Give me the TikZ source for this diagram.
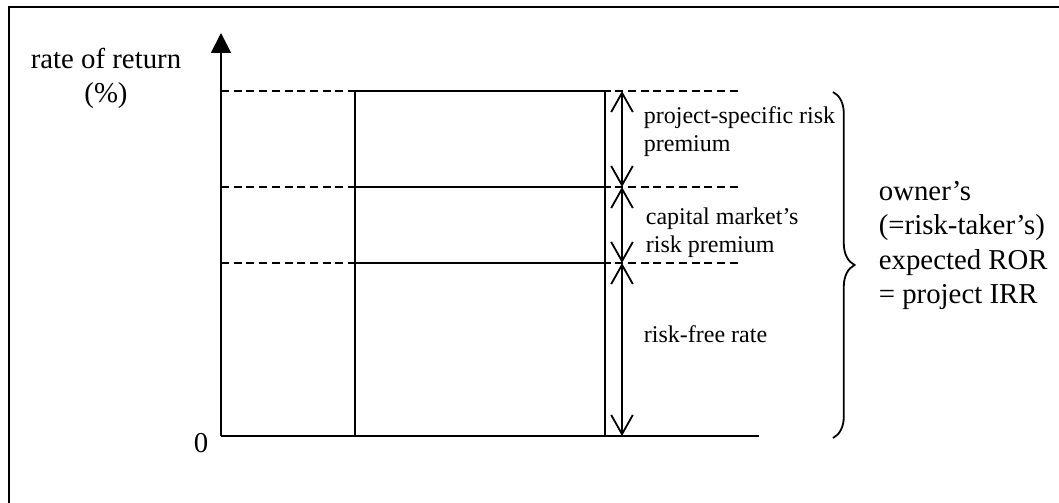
\documentclass[tikz,border=0pt]{standalone}
\usepackage{fontspec}
\setmainfont{Liberation Serif}
\usetikzlibrary{arrows.meta,decorations.pathreplacing}
\tikzset{
  guide/.style={dash pattern=on 3.3pt off 2pt},
  dimline/.style={{Straight Barb[length=8pt,width=9pt]}-{Straight Barb[length=8pt,width=9pt]}},
  bigtext/.style={font=\fontsize{12}{14.4}\selectfont, inner sep=0pt},
  smalltext/.style={font=\fontsize{10}{12}\selectfont, inner sep=0pt, align=left},
}
\begin{document}
\begin{tikzpicture}[x=0.41667pt,y=-0.41667pt,line width=0.75pt]
  \useasboundingbox (0,0) rectangle (1059,503);
  \draw (9,503) -- (9,7) -- (1059,7);
  % axes
  \draw[-{Triangle[length=8.3pt,width=8.3pt]}] (221,436) coordinate (O)
    -- (221,33) coordinate (Ytop);
  \draw (O) -- (759,436) coordinate (Xend);
  \node[bigtext, align=center, anchor=base] (ylab) at (106,103) {rate of return\\(\%)};
  \node[bigtext, anchor=base] (zero) at (201,453) {0};
  % levels
  \draw[guide] (221,91) coordinate (L3) -- (738,91);
  \draw[guide] (221,187) coordinate (L2) -- (738,187);
  \draw[guide] (221,263) coordinate (L1) -- (738,263);
  \draw (355,436) rectangle (605,91);
  \draw (355,187) -- (605,187);
  \draw (355,263) -- (605,263);
  % dimension line
  \draw[dimline] (622,91) coordinate (D3) -- (622,187) coordinate (D2);
  \draw[dimline] (D2) -- (622,263) coordinate (D1);
  \draw[dimline] (D1) -- (622,436) coordinate (D0);
  \node[smalltext, anchor=base west] (psrp) at (643,152) {project-specific risk\\premium};
  \node[smalltext, anchor=base west] (cmrp) at (645,253) {capital market's\\risk premium};
  \node[smalltext, anchor=base west] (rfr) at (643,343) {risk-free rate};
  % brace
  \draw[decorate, decoration={brace, amplitude=9pt}] (833,92) coordinate (Btop)
    -- (833,438) coordinate (Bbot);
  \node[bigtext, align=left, anchor=base west] (ror) at (878,304)
    {owner's\\(=risk-taker's)\\expected ROR\\= project IRR};
\end{tikzpicture}
\end{document}
